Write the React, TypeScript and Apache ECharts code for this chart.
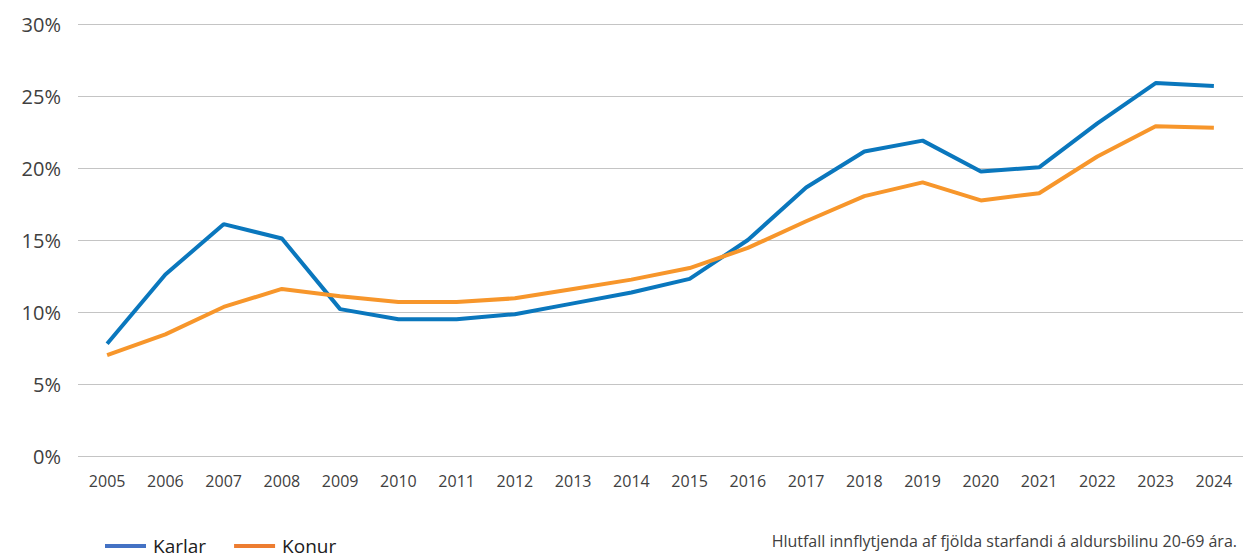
import React, { useEffect, useRef } from "react";
import * as echarts from "echarts";

const years = ["2005","2006","2007","2008","2009","2010","2011","2012","2013","2014","2015","2016","2017","2018","2019","2020","2021","2022","2023","2024"];
const karlar = [7.8, 12.6, 16.1, 15.1, 10.2, 9.5, 9.5, 9.85, 10.6, 11.35, 12.3, 15.0, 18.65, 21.15, 21.9, 19.75, 20.05, 23.1, 25.9, 25.7];
const konur = [7.0, 8.45, 10.35, 11.6, 11.1, 10.7, 10.7, 10.95, 11.6, 12.25, 13.05, 14.45, 16.3, 18.05, 19.0, 17.75, 18.25, 20.8, 22.9, 22.8];
const note = "Hlutfall innflytjenda af fjölda starfandi á aldursbilinu 20-69 ára.";

const FONT = "'Open Sans', sans-serif";

export default function App() {
  const ref = useRef<HTMLDivElement>(null);
  useEffect(() => {
    if (!ref.current) return;
    const chart = echarts.init(ref.current, null, { renderer: "svg" });
    chart.setOption({
      animation: false,
      backgroundColor: "#ffffff",
      grid: { left: 78, right: 4, top: 24, height: 432 },
      xAxis: {
        type: "category",
        data: years,
        boundaryGap: true,
        axisLine: { show: false },
        axisTick: { show: false },
        axisLabel: { color: "#404040", fontSize: 16, fontFamily: FONT, margin: 17 },
      },
      yAxis: {
        type: "value",
        min: 0,
        max: 30,
        interval: 5,
        axisLine: { show: false },
        axisTick: { show: false },
        splitLine: { lineStyle: { color: "#c4c4c4", width: 1 } },
        axisLabel: { color: "#404040", fontSize: 20, fontFamily: FONT, margin: 17, formatter: "{value}%" },
      },
      legend: {
        left: 100,
        top: 530,
        icon: "rect",
        itemWidth: 41,
        itemHeight: 4,
        itemGap: 28,
        textStyle: { color: "#202020", fontSize: 19, lineHeight: 22, fontFamily: FONT, padding: [0, 0, 0, 2] },
        data: [
          { name: "Karlar", itemStyle: { color: "#4472c4" } },
          { name: "Konur", itemStyle: { color: "#ed7d31" } },
        ],
      },
      graphic: [
        {
          type: "text",
          right: 10,
          top: 533,
          style: { text: note, fill: "#404040", font: `16px ${FONT}` },
        },
      ],
      series: [
        {
          name: "Karlar",
          type: "line",
          data: karlar,
          symbol: "none",
          lineStyle: { color: "#0a77bd", width: 4 },
          itemStyle: { color: "#0a77bd" },
        },
        {
          name: "Konur",
          type: "line",
          data: konur,
          symbol: "none",
          lineStyle: { color: "#f7962b", width: 4 },
          itemStyle: { color: "#f7962b" },
        },
      ],
    });
    return () => chart.dispose();
  }, []);
  return <div ref={ref} style={{ position: "fixed", left: 0, top: 0, width: 1247, height: 558 }} />;
}
